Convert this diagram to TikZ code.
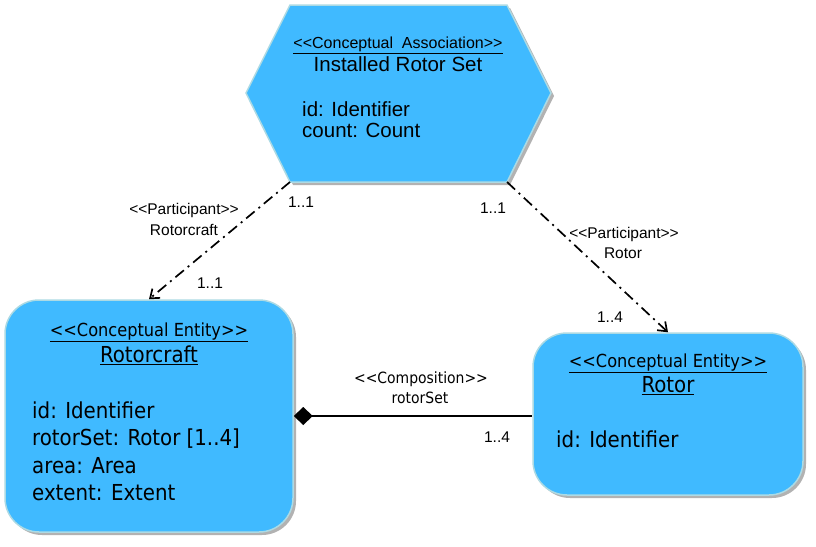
\documentclass[tikz,border=0pt]{standalone}
\usepackage{fontspec}
\setmainfont{Liberation Sans}
\newfontfamily\entfont{DejaVu Sans Condensed}
\usetikzlibrary{arrows.meta,shadows,positioning}

\definecolor{entblue}{RGB}{64,186,255}
\definecolor{entrim}{RGB}{172,218,228}
\newcommand\opst{<\kern0pt<}
\newcommand\clst{>\kern0pt>}

\tikzset{
  shade box/.style={draw=entrim, line width=1.5pt, fill=entblue,
    drop shadow={shadow xshift=3pt, shadow yshift=-3pt, opacity=0.3, fill=black}},
  ent/.style={shade box, rounded corners=34pt},
  hexstereo/.style={font=\fontsize{16}{18}\selectfont, anchor=base, inner sep=0pt},
  hexname/.style={font=\fontsize{20.5}{22}\selectfont, anchor=base, inner sep=0pt},
  hexattr/.style={font=\fontsize{20.5}{22}\selectfont, anchor=base west, inner sep=0pt},
  entstereo/.style={font=\entfont\fontsize{18}{20}\selectfont, anchor=base, inner sep=0pt},
  entname/.style={font=\entfont\fontsize{22}{24}\selectfont, anchor=base, inner sep=0pt},
  entattr/.style={font=\entfont\fontsize{22}{24}\selectfont, anchor=base west, inner sep=0pt},
  lbl/.style={font=\fontsize{15.5}{17}\selectfont, anchor=base, inner sep=0pt},
  complbl/.style={font=\entfont\fontsize{15.5}{17}\selectfont, anchor=base, inner sep=0pt},
  part/.style={line width=1.7pt, dash pattern=on 11pt off 5pt on 2pt off 5pt,
    -{Straight Barb[length=8pt,width=12pt,line width=1.7pt]}},
  comp/.style={line width=1.7pt, {Diamond[length=19pt,width=18pt]}-}
}

\begin{document}
\begin{tikzpicture}[x=1pt,y=-1pt]
\useasboundingbox (0,0) rectangle (816,546);

% conceptual association
\draw[shade box] (290,5) -- (507,5) -- (551,93) -- (507,182) -- (290,182) -- (246,93) -- cycle;
\coordinate (assocL) at (290,182);
\coordinate (assocR) at (507,182);
\node[hexstereo] (assocst) at (398,48) {\underline{\opst Conceptual\ \ Association\clst}};
\node[hexname] (assocnm) at (398,71) {Installed Rotor Set};
\node[hexattr] (associd) at (302,116) {id: Identifier};
\node[hexattr] (assoccnt) at (302,137) {count: Count};

% conceptual entities
\node[ent, minimum width=288pt, minimum height=232pt] (rotorcraft) at (149,416) {};
\node[entstereo] (rcst) at (149,336) {\underline{\opst Conceptual Entity\clst}};
\node[entname] (rcnm) at (149,362) {\underline{Rotorcraft}};
\node[entattr] (rcid) at (32,418) {id: Identifier};
\node[entattr] (rcset) at (32,445) {rotorSet: Rotor [1..4]};
\node[entattr] (rcarea) at (32,473) {area: Area};
\node[entattr] (rcext) at (32,500) {extent: Extent};

\node[ent, minimum width=270pt, minimum height=162pt] (rotor) at (668,414) {};
\node[entstereo] (rost) at (668,367) {\underline{\opst Conceptual Entity\clst}};
\node[entname] (ronm) at (668,392) {\underline{Rotor}};
\node[entattr] (roid) at (556,447) {id: Identifier};

% participants
\draw[part] (assocL) -- (rotorcraft.north);
\node[lbl] (p1st) at (184,214) {\opst Participant\clst};
\node[lbl] (p1nm) at (184,235) {Rotorcraft};
\node[lbl] (p1a) at (301,207) {1..1};
\node[lbl] (p1b) at (210,288) {1..1};

\draw[part] (assocR) -- (rotor.north);
\node[lbl] (p2st) at (624,238) {\opst Participant\clst};
\node[lbl] (p2nm) at (623,258) {Rotor};
\node[lbl] (p2a) at (493,213) {1..1};
\node[lbl] (p2b) at (610,322) {1..4};

% composition
\draw[comp] (rotorcraft.east) -- (rotorcraft.east -| rotor.west);
\node[complbl] (cst) at (421,383) {\opst Composition\clst};
\node[complbl] (cnm) at (420,403) {rotorSet};
\node[lbl] (cm) at (497,442) {1..4};
\end{tikzpicture}
\end{document}
